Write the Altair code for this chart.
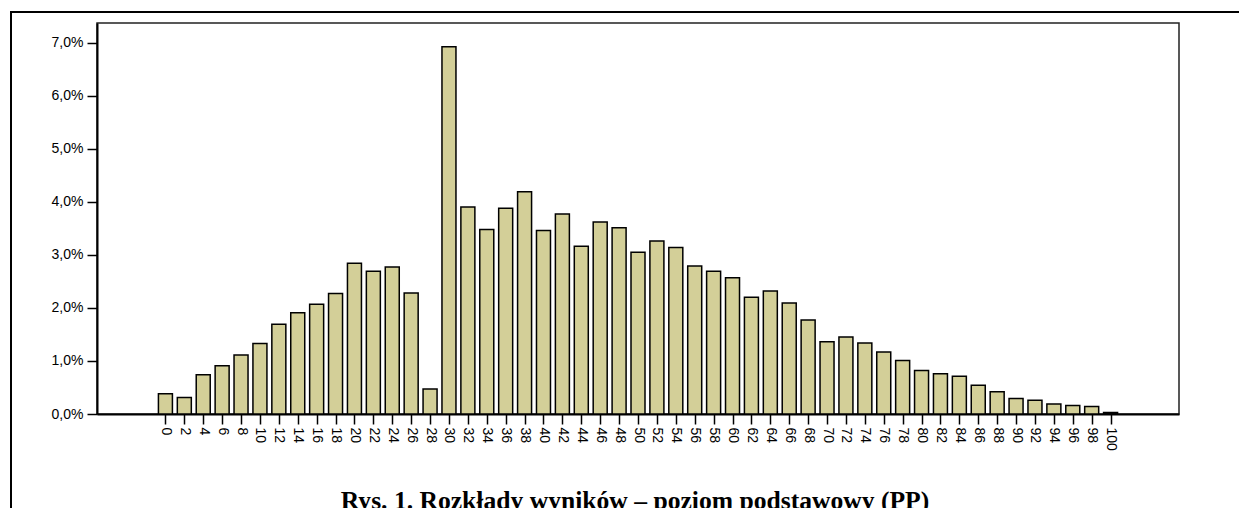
import altair as alt
import pandas as pd

scores = list(range(0, 101, 2))
percent = [
    0.38, 0.31, 0.74, 0.91, 1.11, 1.33, 1.69, 1.91, 2.07, 2.27,
    2.84, 2.69, 2.77, 2.28, 0.47, 6.92, 3.90, 3.48, 3.88, 4.19,
    3.46, 3.77, 3.16, 3.62, 3.51, 3.05, 3.26, 3.14, 2.79, 2.69,
    2.57, 2.20, 2.32, 2.09, 1.77, 1.36, 1.45, 1.34, 1.17, 1.01,
    0.82, 0.76, 0.71, 0.54, 0.42, 0.29, 0.26, 0.19, 0.16, 0.14,
    0.03,
]
y_ticks = [0, 1, 2, 3, 4, 5, 6, 7]
title_text = "Rys. 1. Rozkłady wyników – poziom podstawowy (PP)"

df = pd.DataFrame({"wynik": scores, "procent": percent})

W, H = 1082, 391

bars = alt.Chart(df).mark_bar(
    fill="#d3cf98", stroke="#000000", strokeWidth=1.5, size=14
).encode(
    x=alt.X(
        "wynik:Q",
        title=None,
        scale=alt.Scale(domain=[-6.71, 106.71], nice=False, zero=False),
        axis=alt.Axis(
            values=scores,
            format="d",
            labelAngle=90,
            labelAlign="left",
            labelBaseline="middle",
            labelFlush=False,
            labelOverlap=False,
            labelFont="Liberation Sans",
            labelFontSize=14,
            labelColor="#000000",
            labelPadding=3,
            tickSize=10,
            tickColor="#000000",
            tickWidth=1.5,
            domainColor="#000000",
            domainWidth=2,
            grid=False,
        ),
    ),
    y=alt.Y(
        "procent:Q",
        title=None,
        scale=alt.Scale(domain=[0, 7.37], nice=False, zero=True),
        axis=alt.Axis(
            values=y_ticks,
            labelExpr="replace(format(datum.value, '.1f'), '.', ',') + '%'",
            labelFont="Liberation Sans",
            labelFontSize=14,
            labelColor="#000000",
            labelPadding=4,
            tickSize=10,
            tickColor="#000000",
            tickWidth=1.5,
            domainColor="#000000",
            domainWidth=2,
            grid=False,
        ),
    ),
)

frame = alt.Chart(pd.DataFrame({"k": [0]})).mark_rect(
    fill=None, stroke="#000000", strokeWidth=2, filled=False
).encode(
    x=alt.value(-86), x2=alt.value(1300),
    y=alt.value(-11), y2=alt.value(700),
)

caption = alt.Chart(pd.DataFrame({"t": [title_text]})).mark_text(
    font="Liberation Serif",
    fontWeight="bold",
    fontSize=25.6,
    color="#000000",
    align="center",
    baseline="alphabetic",
).encode(
    text="t:N",
    x=alt.value(W / 2 - 3),
    y=alt.value(486),
)

chart = alt.layer(frame, bars, caption).properties(
    width=W,
    height=H,
    autosize=alt.AutoSizeParams(type="none"),
    padding={"left": 89, "top": 15, "right": 60, "bottom": 94},
    background="#ffffff",
).configure_view(
    stroke="#222222", strokeWidth=1.5
)

chart.save("out.html", embed_options={"renderer": "svg", "actions": False})
